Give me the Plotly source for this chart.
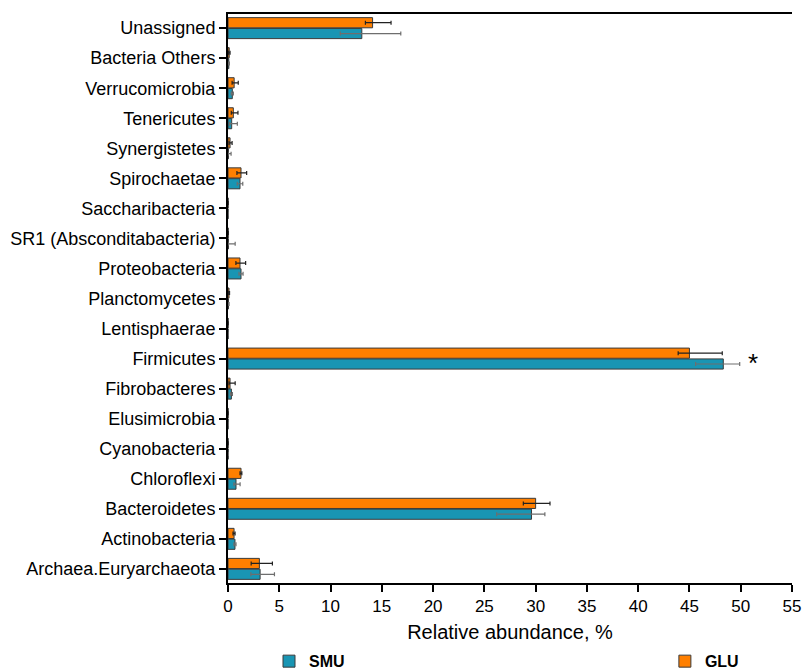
import plotly.graph_objects as go

# Phylum-level composition, listed bottom to top
phyla = [
    "Archaea.Euryarchaeota", "Actinobacteria", "Bacteroidetes", "Chloroflexi",
    "Cyanobacteria", "Elusimicrobia", "Fibrobacteres", "Firmicutes",
    "Lentisphaerae", "Planctomycetes", "Proteobacteria",
    "SR1 (Absconditabacteria)", "Saccharibacteria", "Spirochaetae",
    "Synergistetes", "Tenericutes", "Verrucomicrobia", "Bacteria Others",
    "Unassigned",
]

smu_mean = [3.13, 0.68, 29.6, 0.78, 0.02, 0.01, 0.33, 48.3, 0.01, 0.05, 1.27,
            0.05, 0.01, 1.17, 0.05, 0.36, 0.42, 0.08, 13.05]
smu_err_plus = [1.4, 0.1, 1.3, 0.4, 0.02, 0.01, 0.1, 1.6, 0.01, 0.05, 0.2,
                0.65, 0.01, 0.27, 0.25, 0.55, 0.1, 0.05, 3.8]
smu_err_minus = [0.9, 0.1, 3.4, 0.2, 0.02, 0.01, 0.1, 2.7, 0.01, 0.05, 0.2,
                 0.05, 0.01, 0.27, 0.05, 0.2, 0.1, 0.05, 2.1]

glu_mean = [3.06, 0.59, 30.0, 1.27, 0.01, 0.01, 0.2, 45.0, 0.01, 0.1, 1.17,
            0.02, 0.01, 1.27, 0.2, 0.52, 0.6, 0.12, 14.1]
glu_err_plus = [1.27, 0.1, 1.4, 0.08, 0.01, 0.01, 0.5, 3.2, 0.01, 0.05, 0.55,
                0.02, 0.01, 0.55, 0.2, 0.45, 0.4, 0.08, 1.8]
glu_err_minus = [0.8, 0.1, 1.2, 0.1, 0.01, 0.01, 0.1, 1.1, 0.01, 0.05, 0.4,
                 0.02, 0.01, 0.4, 0.1, 0.2, 0.2, 0.08, 0.7]

x_ticks = [0, 5, 10, 15, 20, 25, 30, 35, 40, 45, 50, 55]

# Significance marker
sig_phylum = "Firmicutes"
sig_x = 51.2

SMU_COLOR = "#1995B3"
GLU_COLOR = "#FF7F00"
FONT = "Liberation Sans, Arial, sans-serif"

fig = go.Figure()

fig.add_trace(go.Bar(
    y=phyla, x=smu_mean, orientation="h", name="<b>SMU</b>",
    marker=dict(color=SMU_COLOR, line=dict(color="#3a3a3a", width=1)),
    error_x=dict(type="data", symmetric=False, array=smu_err_plus,
                 arrayminus=smu_err_minus, color="#6e6e6e",
                 thickness=1.2, width=2),
    legend="legend", showlegend=True,
))
fig.add_trace(go.Bar(
    y=phyla, x=glu_mean, orientation="h", name="<b>GLU</b>",
    marker=dict(color=GLU_COLOR, line=dict(color="#3a3a3a", width=1)),
    error_x=dict(type="data", symmetric=False, array=glu_err_plus,
                 arrayminus=glu_err_minus, color="#222222",
                 thickness=1.2, width=2),
    legend="legend2", showlegend=True,
))

fig.add_annotation(
    x=sig_x, y=sig_phylum, text="*", showarrow=False,
    font=dict(family=FONT, size=26, color="black"),
    xanchor="center", yanchor="middle", yshift=-4,
)

# Legends sit below the axis title, anchored to the page so they
# do not shrink the plotting area
legend_common = dict(
    orientation="h", yref="container", yanchor="middle", y=0.016,
    xref="container",
    font=dict(family=FONT, size=16, color="black"),
    bgcolor="rgba(0,0,0,0)", itemwidth=30,
)

fig.update_layout(
    width=803, height=672,
    margin=dict(l=228, r=11, t=14, b=89),
    plot_bgcolor="white", paper_bgcolor="white",
    showlegend=True,
    barmode="group", bargap=0.28, bargroupgap=0.06,
    font=dict(family=FONT, size=17, color="black"),
    legend=dict(x=0.335, xanchor="left", **legend_common),
    legend2=dict(x=0.828, xanchor="left", **legend_common),
    xaxis=dict(
        range=[0, 55], tickvals=x_ticks, ticktext=[str(v) for v in x_ticks],
        showgrid=False, zeroline=False,
        showline=True, linecolor="black", linewidth=2, mirror=True,
        ticks="outside", ticklen=7, tickwidth=2, tickcolor="black",
        tickfont=dict(family=FONT, size=17), automargin=False,
        title=dict(text="Relative abundance, %", font=dict(family=FONT, size=20),
                   standoff=10),
    ),
    yaxis=dict(
        categoryorder="array", categoryarray=phyla,
        range=[-0.47, 18.47],
        showgrid=False, zeroline=False,
        showline=True, linecolor="black", linewidth=2,
        ticks="outside", ticklen=7, tickwidth=2, tickcolor="black",
        tickfont=dict(family=FONT, size=18), automargin=False,
    ),
)

fig.write_html("out.html")
